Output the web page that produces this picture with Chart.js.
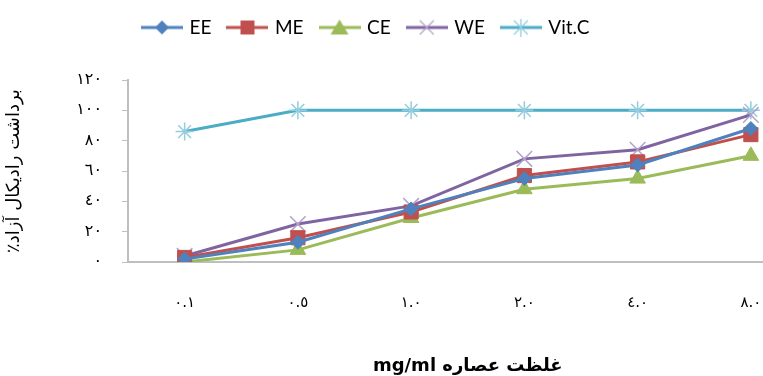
<!DOCTYPE html>
<html>
<head>
<meta charset="utf-8">
<script src="https://cdn.jsdelivr.net/npm/chart.js@4/dist/chart.umd.min.js"></script>
<style>
  html, body { margin: 0; padding: 0; background: #fff; overflow: hidden; }
  #wrap { width: 820px; height: 376px; }
</style>
</head>
<body>
<div id="wrap"><canvas id="radicalChart" width="820" height="376"></canvas></div>
<script>
// concentrations (mg/ml) shown with Arabic-Indic digits
const concentrations = ['٠.١', '٠.٥', '١.٠', '٢.٠', '٤.٠', '٨.٠'];
const eeValues   = [2, 13, 35, 55, 64, 88];
const meValues   = [3, 16, 33, 57, 66, 84];
const ceValues   = [0, 8, 29, 48, 55, 70];
const weValues   = [4, 25, 37, 68, 74, 97];
const vitCValues = [86, 100, 100, 100, 100, 100];
const yTickLabels = ['٠', '٢٠', '٤٠', '٦٠', '٨٠', '١٠٠', '١٢٠'];

const seriesDefs = [
  { label: 'EE',    data: eeValues,   color: '#4F81BD', marker: '#4F81BD', style: 'rectRot',  radius: 7 },
  { label: 'ME',    data: meValues,   color: '#C0504D', marker: '#C0504D', style: 'rect',     radius: 10 },
  { label: 'CE',    data: ceValues,   color: '#9BBB59', marker: '#9BBB59', style: 'triangle', radius: 9 },
  { label: 'WE',    data: weValues,   color: '#8064A2', marker: '#B3A2C7', style: 'crossRot', radius: 11 },
  { label: 'Vit.C', data: vitCValues, color: '#4BACC6', marker: '#93CDDD', style: 'star',     radius: 9 }
];

// legend icon: short line with the marker in the middle (Excel style)
function legendIcon(color, marker, style) {
  const c = document.createElement('canvas');
  c.width = 42; c.height = 18;
  const g = c.getContext('2d');
  g.strokeStyle = color;
  g.lineWidth = 3;
  g.beginPath(); g.moveTo(0, 9); g.lineTo(42, 9); g.stroke();
  g.fillStyle = marker;
  g.strokeStyle = marker;
  g.lineWidth = 1.3;
  const x = 21, y = 9;
  g.beginPath();
  if (style === 'rectRot') {
    g.moveTo(x, y - 7); g.lineTo(x + 7, y); g.lineTo(x, y + 7); g.lineTo(x - 7, y); g.closePath(); g.fill();
  } else if (style === 'rect') {
    g.fillRect(x - 7, y - 7, 14, 14);
  } else if (style === 'triangle') {
    g.moveTo(x, y - 8); g.lineTo(x + 9, y + 7); g.lineTo(x - 9, y + 7); g.closePath(); g.fill();
  } else if (style === 'crossRot') {
    g.moveTo(x - 7, y - 7); g.lineTo(x + 7, y + 7); g.moveTo(x + 7, y - 7); g.lineTo(x - 7, y + 7); g.stroke();
  } else {
    g.moveTo(x - 7, y - 7); g.lineTo(x + 7, y + 7); g.moveTo(x + 7, y - 7); g.lineTo(x - 7, y + 7);
    g.moveTo(x, y - 9); g.lineTo(x, y + 9); g.stroke();
  }
  return c;
}
const icons = seriesDefs.map(s => legendIcon(s.color, s.marker, s.style));

const ctx = document.getElementById('radicalChart').getContext('2d');

// fixed legend band height, and shift the legend row to where the reference starts it
const legendPlace = {
  id: 'legendPlace',
  beforeInit(chart) {
    const origFit = chart.legend.fit;
    chart.legend.fit = function () {
      origFit.call(this);
      this.height = 80;
    };
  },
  afterLayout(chart) {
    chart.legend.left = 126;
  }
};

const radicalChart = new Chart(ctx, {
  type: 'line',
  data: {
    labels: concentrations,
    datasets: seriesDefs.map(s => ({
      label: s.label,
      data: s.data,
      borderColor: s.color,
      backgroundColor: s.color,
      pointBackgroundColor: s.marker,
      pointBorderColor: s.marker,
      pointStyle: s.style,
      pointRadius: s.radius,
      pointBorderWidth: (s.style === 'crossRot' || s.style === 'star') ? 1.5 : 1,
      borderWidth: 3,
      tension: 0
    }))
  },
  options: {
    responsive: false,
    animation: false,
    layout: { padding: { top: 0, bottom: 0, left: 0, right: 0 } },
    plugins: {
      tooltip: { enabled: false },
      legend: {
        position: 'top',
        align: 'start',
        labels: {
          usePointStyle: true,
          pointStyleWidth: 36,
          padding: 18,
          color: '#000',
          font: { family: 'Lato', size: 19 },
          generateLabels: chart => chart.data.datasets.map((ds, i) => ({
            text: ds.label,
            pointStyle: icons[i],
            fontColor: '#000',
            datasetIndex: i,
            hidden: false,
            lineWidth: 0,
            strokeStyle: 'transparent',
            fillStyle: 'transparent'
          }))
        }
      }
    },
    scales: {
      x: {
        offset: true,
        grid: { display: false, drawTicks: false },
        border: { display: true, color: '#BFBFBF', width: 2 },
        ticks: {
          padding: 32,
          color: '#000',
          font: { family: 'DejaVu Sans', size: 15 }
        },
        title: {
          display: true,
          text: 'mg/ml غلظت عصاره',
          color: '#000',
          font: { family: 'DejaVu Sans', size: 18, weight: 'bold' },
          padding: { top: 34, bottom: -1 }
        },
        afterFit: scale => { scale.height = 114; }
      },
      y: {
        min: 0,
        max: 120,
        grid: { drawOnChartArea: false, drawTicks: true, tickLength: 6, color: '#BFBFBF' },
        border: { display: true, color: '#BFBFBF', width: 2 },
        ticks: {
          stepSize: 20,
          padding: 20,
          color: '#000',
          font: { family: 'DejaVu Sans', size: 16 },
          callback: (v, i) => yTickLabels[i]
        },
        title: {
          display: true,
          text: '\u202Bبرداشت رادیکال آزاد٪\u202C',
          color: '#000',
          font: { family: 'DejaVu Sans', size: 18 },
          padding: { bottom: 22 }
        },
        afterFit: scale => { scale.width = 128; }
      }
    }
  },
  plugins: [legendPlace]
});
</script>
</body>
</html>
